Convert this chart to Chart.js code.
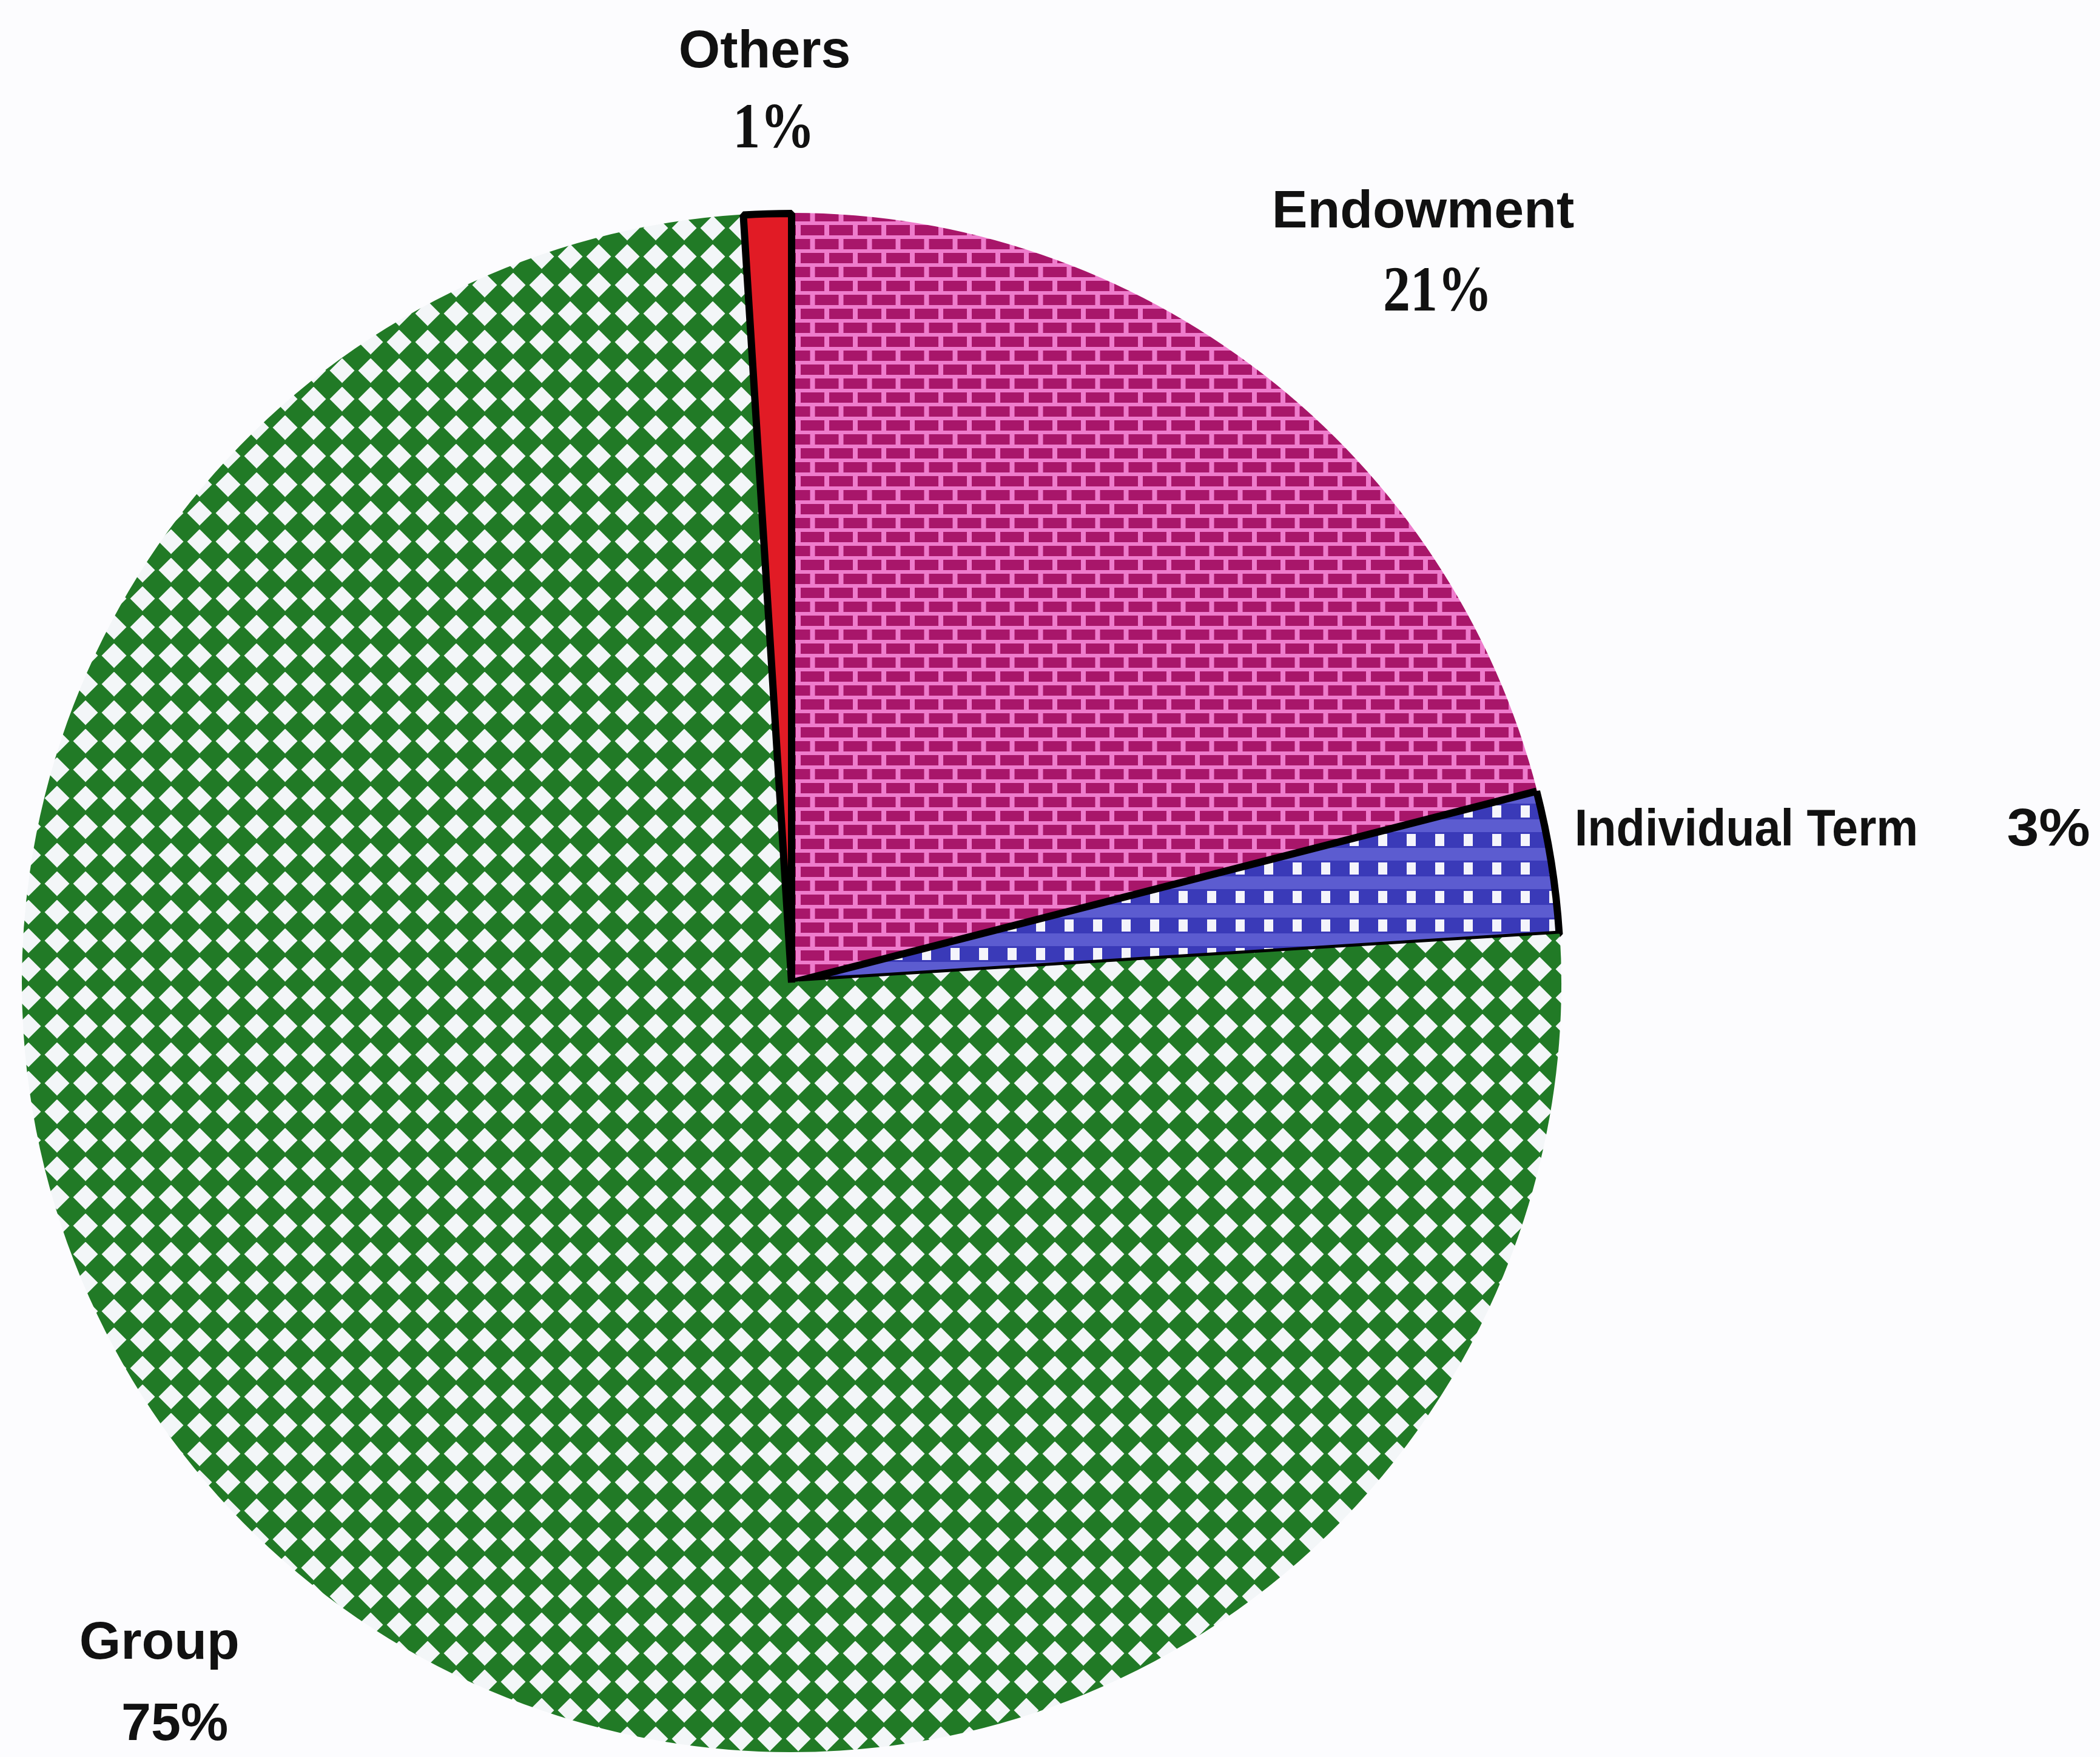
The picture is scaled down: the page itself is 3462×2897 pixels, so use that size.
<!DOCTYPE html>
<html>
<head>
<meta charset="utf-8">
<script src="https://cdn.jsdelivr.net/npm/chart.js@4.4.1/dist/chart.umd.min.js"></script>
<style>
  html, body { margin: 0; padding: 0; background: #fcfcfe; overflow: hidden; }
  canvas { display: block; }
</style>
</head>
<body>
<canvas id="pieSeguros" width="3462" height="2897"></canvas>
<script>
// Categorías en sentido horario desde arriba
const categories = ['Endowment', 'Individual Term', 'Group', 'Others'];
const shares = [21, 3, 75, 1];

const canvas = document.getElementById('pieSeguros');
const ctx = canvas.getContext('2d');

// Tramas de relleno (mosaicos repetidos)
function tile(w, h, paint) {
    const c = document.createElement('canvas');
    c.width = w;
    c.height = h;
    paint(c.getContext('2d'), w, h);
    return ctx.createPattern(c, 'repeat');
}

// rombos verdes
const groupFill = tile(47, 47, (g, w, h) => {
    g.fillStyle = '#f3f6f8';
    g.fillRect(0, 0, w, h);
    g.fillStyle = '#217a26';
    g.beginPath();
    g.moveTo(w / 2, -3);
    g.lineTo(w + 3, h / 2);
    g.lineTo(w / 2, h + 3);
    g.lineTo(-3, h / 2);
    g.closePath();
    g.fill();
});

// ladrillos magenta
const endowFill = tile(47, 46, (g, w, h) => {
    g.fillStyle = '#ee7ccc';
    g.fillRect(0, 0, w, h);
    g.fillStyle = '#a8166a';
    g.fillRect(4, 3, 39, 17);
    g.fillRect(27.5, 26, 39, 17);
    g.fillRect(-19.5, 26, 39, 17);
});

// cuadros blancos sobre azul
const termFill = tile(47, 47, (g, w, h) => {
    g.fillStyle = '#5c5cd0';
    g.fillRect(0, 0, w, h);
    g.fillStyle = '#3a3ab8';
    g.fillRect(0, 9, w, 26);
    g.fillStyle = '#f4f4fb';
    g.fillRect(16, 12, 15, 20);
});

const fills = [endowFill, termFill, groupFill, '#e11b25'];

// Etiquetas: posición relativa al centro, en radios
const etiquetas = [
    { text: categories[3], dx: -0.035, dy: -1.190, font: 'bold 88px "Liberation Sans", Arial' },
    { text: shares[3] + '%', dx: -0.023, dy: -1.086, font: 'bold 90px "Liberation Serif", "Times New Roman"', sy: 1.18 },
    { text: categories[0], dx: 0.821, dy: -0.982, font: 'bold 88px "Liberation Sans", Arial' },
    { text: shares[0] + '%', dx: 0.840, dy: -0.874, font: 'bold 90px "Liberation Serif", "Times New Roman"', sy: 1.18 },
    { text: categories[1], dx: 1.018, dy: -0.178, font: 'bold 86px "Liberation Sans", Arial', align: 'left', sx: 0.9 },
    { text: shares[1] + '%', dx: 1.580, dy: -0.178, font: 'bold 88px "Liberation Sans", Arial', align: 'left', sx: 1.08 },
    { text: categories[2], dx: -0.822, dy: 0.879, font: 'bold 88px "Liberation Sans", Arial' },
    { text: shares[2] + '%', dx: -0.802, dy: 0.985, font: 'bold 88px "Liberation Sans", Arial' }
];

const etiquetasPlugin = {
    id: 'etiquetas',
    afterDraw(chart) {
        const arc = chart.getDatasetMeta(0).data[0];
        const { x, y, outerRadius } = arc.getProps(['x', 'y', 'outerRadius'], true);
        const g = chart.ctx;
        etiquetas.forEach(e => {
            g.save();
            g.translate(x + e.dx * outerRadius, y + e.dy * outerRadius);
            g.scale(e.sx || 1, e.sy || 1);
            g.font = e.font;
            g.textAlign = e.align || 'center';
            g.textBaseline = 'alphabetic';
            g.fillStyle = '#111';
            g.fillText(e.text, 0, 0);
            g.restore();
        });
    }
};

new Chart(ctx, {
    type: 'pie',
    data: {
        labels: categories,
        datasets: [{
            data: shares,
            backgroundColor: fills,
            borderColor: [endowFill, '#000', groupFill, '#000'],
            borderWidth: [2, 12, 2, 12]
        }]
    },
    options: {
        responsive: false,
        animation: false,
        devicePixelRatio: 1,
        radius: 1268,
        layout: {
            padding: { left: 0, right: 852, top: 343, bottom: 0 }
        },
        plugins: {
            legend: { display: false },
            tooltip: { enabled: false }
        }
    },
    plugins: [etiquetasPlugin]
});
</script>
</body>
</html>
